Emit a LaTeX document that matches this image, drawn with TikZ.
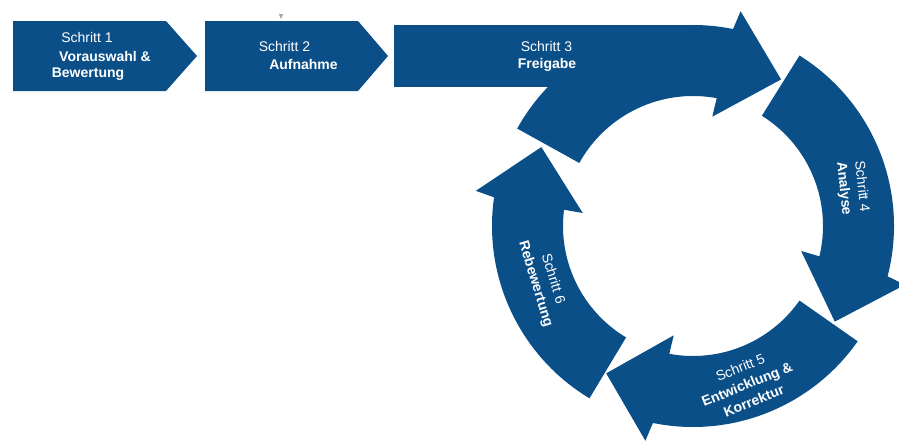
\documentclass[tikz,border=0pt]{standalone}
\usepackage{fontspec}
\setmainfont{Liberation Sans}
\definecolor{stepblue}{RGB}{11,79,136}
\newcommand\ringarrow[3]{% tail angle, barb angle, tip angle
  \fill[stepblue] (#1:201pt) arc[start angle=#1, end angle=#2-1, radius=201pt]
    -- (#2-2:220pt) -- (#3:171pt) -- (#2+0.5:111pt) -- (#2:130pt)
    arc[start angle=#2, end angle=#1, radius=130pt] -- cycle;}
\tikzset{
  steptext/.style={text=white, font=\fontsize{14}{17}\selectfont, inner sep=0pt},
  stepbold/.style={steptext, font=\fontsize{14}{17}\selectfont\bfseries},
  ringtext/.style={text=white, font=\fontsize{14}{18}\selectfont, align=center, inner sep=0pt},
}
\begin{document}
\begin{tikzpicture}[x=1pt,y=1pt]
\useasboundingbox (0,0) rectangle (899,-447);
% steps 1 and 2
\fill[stepblue] (13,-21) -- (166,-21) -- (197,-56) -- (166,-91) -- (13,-91) -- cycle;
\fill[stepblue] (205,-21) -- (358,-21) -- (388,-56) -- (358,-91) -- (205,-91) -- cycle;
\fill[gray!70] (278.8,-14) -- (283.2,-14) -- (281,-19) -- cycle;
% step 3 bar
\fill[stepblue] (394,-25) rectangle (693,-87);
\begin{scope}[shift={(693,-226)}]
  \ringarrow{151}{79.5}{59}
  \ringarrow{58}{-13.5}{-34}
  \ringarrow{-35}{-100.5}{-120.5}
  \ringarrow{239}{172.8}{152.5}
\end{scope}
% texts
\node[steptext, anchor=base] (s1a) at (87,-42.7) {Schritt 1};
\node[stepbold, anchor=base] (s1b) at (105,-61) {Vorauswahl \&};
\node[stepbold, anchor=base] (s1c) at (88,-77.5) {Bewertung};
\node[steptext, anchor=base] (s2a) at (284.5,-51.7) {Schritt 2};
\node[stepbold, anchor=base] (s2b) at (303.5,-69) {Aufnahme};
\node[steptext, anchor=base] (s3a) at (546.5,-51.7) {Schritt 3};
\node[stepbold, anchor=base] (s3b) at (547,-68.5) {Freigabe};
\node[ringtext, rotate=-84] (s4) at (852.5,-187.5) {Schritt 4\\\bfseries Analyse};
\node[ringtext, rotate=22] (s5) at (747,-384) {Schritt 5\\\bfseries Entwicklung \&\\\bfseries Korrektur};
\node[ringtext, rotate=-73] (s6) at (544,-281.5) {Schritt 6\\\bfseries Rebewertung};
\end{tikzpicture}
\end{document}
